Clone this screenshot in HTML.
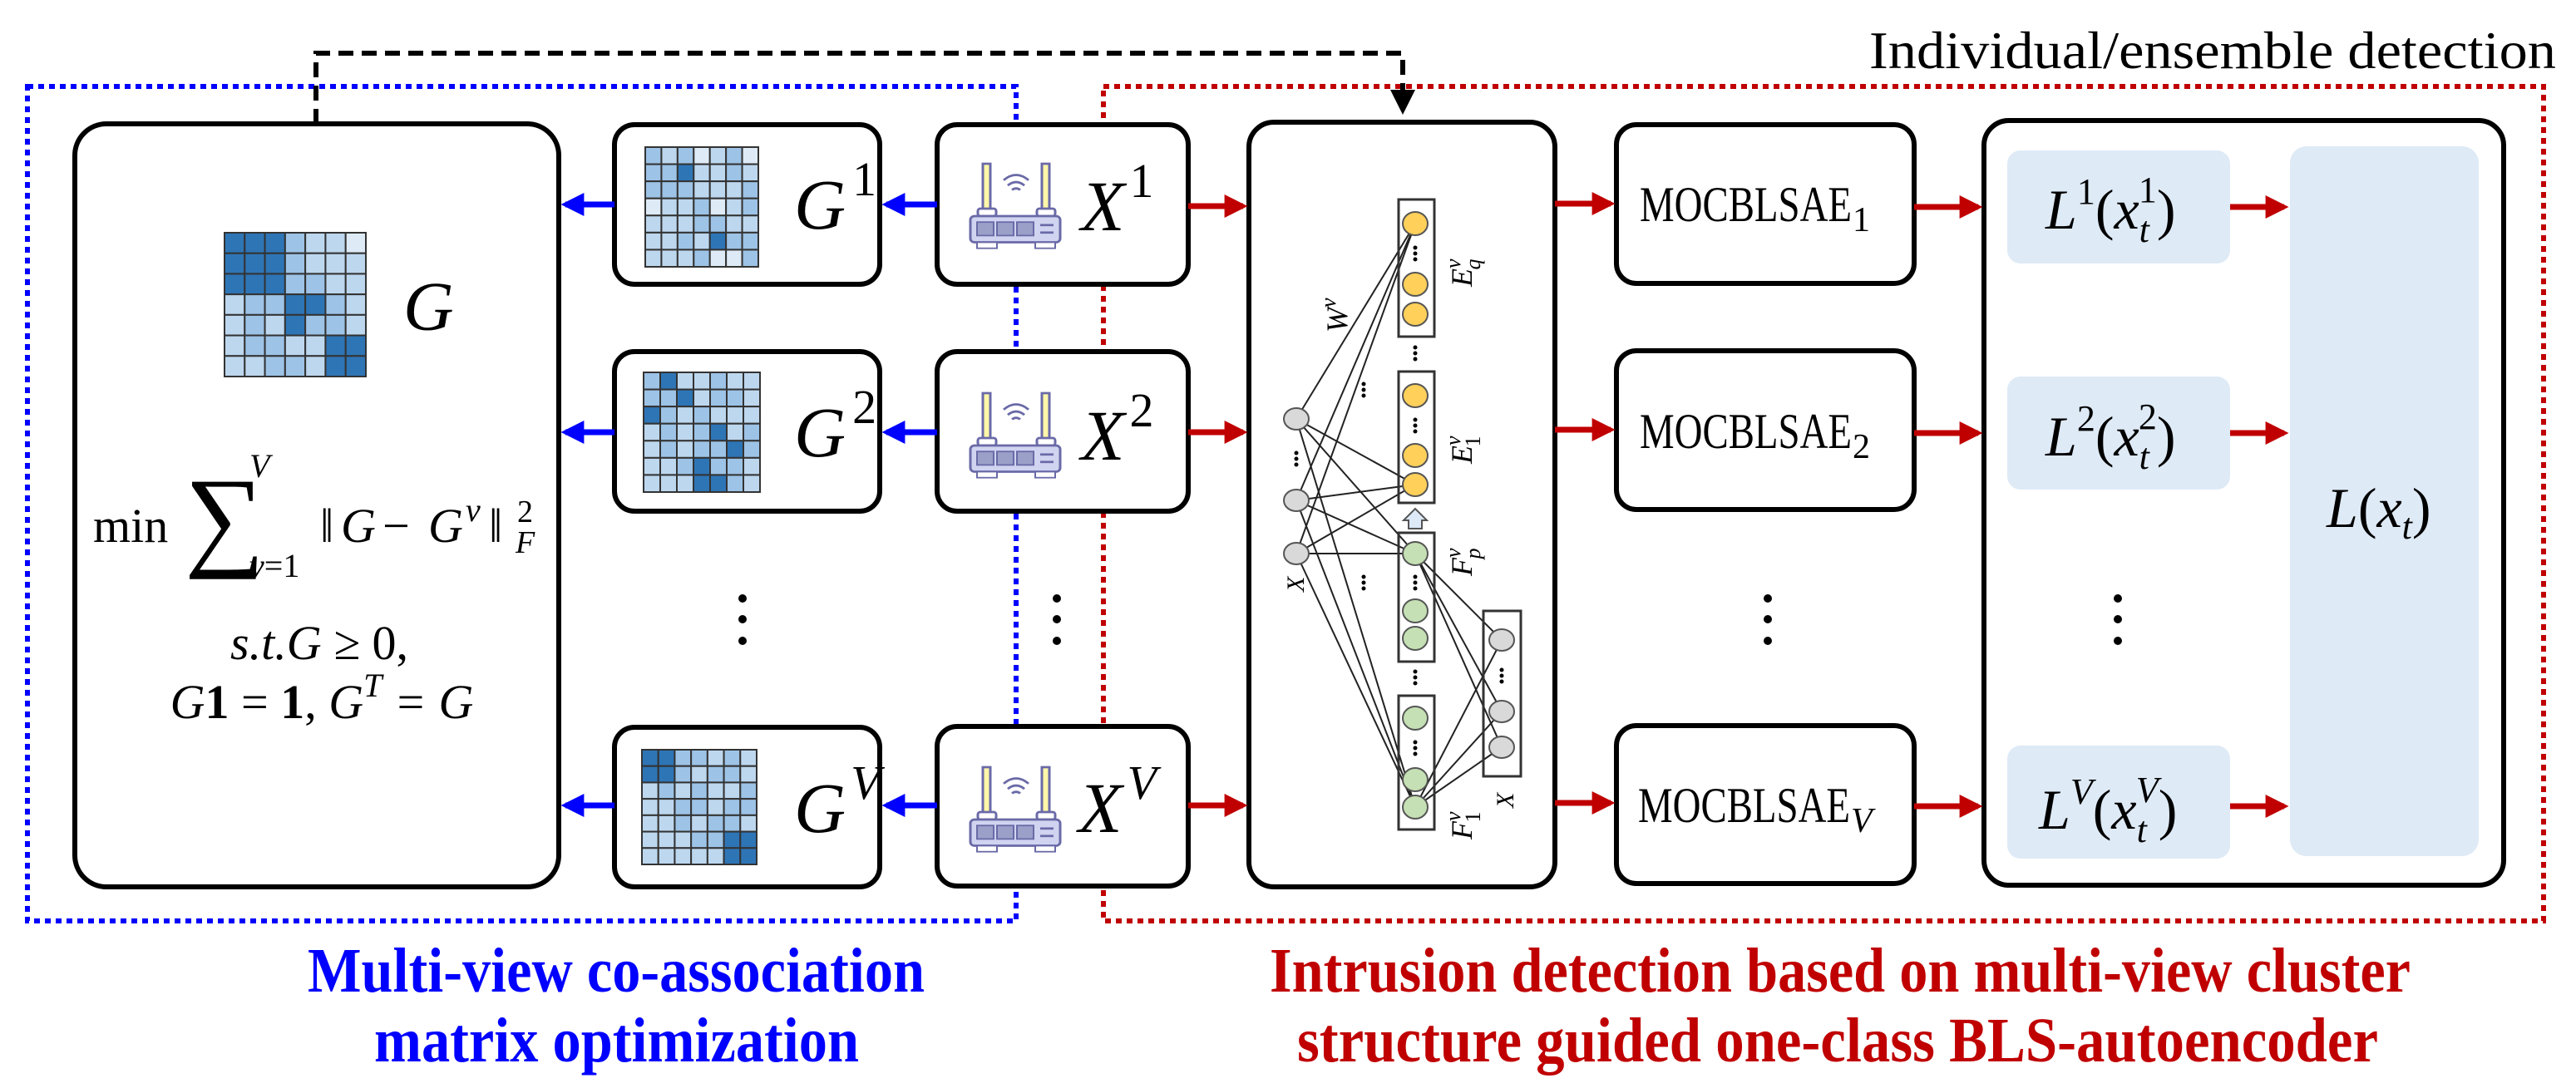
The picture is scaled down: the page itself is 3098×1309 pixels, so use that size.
<!DOCTYPE html>
<html><head><meta charset="utf-8"><style>
html,body{margin:0;padding:0;background:#fff;overflow:hidden;}
svg{display:block;}
.s{font-family:"Liberation Serif",serif;}
.i{font-family:"Liberation Serif",serif;font-style:italic;}
</style></head><body>
<svg id="S" width="3098" height="1309" viewBox="0 0 3098 1309" xmlns="http://www.w3.org/2000/svg">
<defs>
<marker id="ab" markerWidth="4" markerHeight="4" refX="3.2" refY="2" orient="auto" markerUnits="strokeWidth"><path d="M0,0 L4,2 L0,4 Z" fill="#0000ff"/></marker>
<marker id="ar" markerWidth="4" markerHeight="4" refX="3.2" refY="2" orient="auto" markerUnits="strokeWidth"><path d="M0,0 L4,2 L0,4 Z" fill="#c00000"/></marker>
<marker id="ak" markerWidth="5" markerHeight="5" refX="4" refY="2.5" orient="auto" markerUnits="strokeWidth"><path d="M0,0 L5,2.5 L0,5 Z" fill="#000"/></marker>
<g id="router">
<rect x="15" y="0" width="9" height="62" fill="#fff7a8" stroke="#6a6aa8" stroke-width="3"/>
<rect x="86" y="0" width="9" height="62" fill="#fff7a8" stroke="#6a6aa8" stroke-width="3"/>
<rect x="9" y="60" width="22" height="10" rx="3" fill="#fff" stroke="#6a6aa8" stroke-width="3"/>
<rect x="80" y="60" width="22" height="10" rx="3" fill="#fff" stroke="#6a6aa8" stroke-width="3"/>
<path d="M40,22 Q55,8 70,22 M45,29 Q55,20 65,29 M50,35 Q55,31 60,35" fill="none" stroke="#6a6aa8" stroke-width="3"/>
<rect x="0" y="70" width="108" height="35" rx="5" fill="#d0d4f0" stroke="#6a6aa8" stroke-width="3"/>
<rect x="8" y="78" width="20" height="18" fill="#9aa0c8" stroke="#6a6aa8" stroke-width="2"/>
<rect x="32" y="78" width="20" height="18" fill="#9aa0c8" stroke="#6a6aa8" stroke-width="2"/>
<rect x="56" y="78" width="20" height="18" fill="#9aa0c8" stroke="#6a6aa8" stroke-width="2"/>
<line x1="84" y1="82" x2="100" y2="82" stroke="#6a6aa8" stroke-width="3"/>
<line x1="84" y1="92" x2="100" y2="92" stroke="#6a6aa8" stroke-width="3"/>
<rect x="8" y="105" width="24" height="8" fill="#fff" stroke="#6a6aa8" stroke-width="2"/>
<rect x="78" y="105" width="24" height="8" fill="#fff" stroke="#6a6aa8" stroke-width="2"/>
</g>
</defs>

<rect x="33" y="104" width="1189" height="1004" fill="none" stroke="#0000ff" stroke-width="6" stroke-dasharray="7 6"/>
<rect x="1327" y="104" width="1732" height="1004" fill="none" stroke="#c00000" stroke-width="6" stroke-dasharray="7 6"/>

<path d="M380,149 L380,64 L1687,64 L1687,132" fill="none" stroke="#000" stroke-width="6" stroke-dasharray="18 10" marker-end="url(#ak)"/>

<rect x="90" y="149" width="582" height="918" rx="38" fill="#fff" stroke="#000" stroke-width="6"/>
<rect x="739" y="150" width="319" height="192" rx="24" fill="#fff" stroke="#000" stroke-width="6"/>
<rect x="739" y="423" width="319" height="192" rx="24" fill="#fff" stroke="#000" stroke-width="6"/>
<rect x="739" y="875" width="319" height="192" rx="24" fill="#fff" stroke="#000" stroke-width="6"/>
<rect x="1127" y="150" width="302" height="192" rx="24" fill="#fff" stroke="#000" stroke-width="6"/>
<rect x="1127" y="423" width="302" height="192" rx="24" fill="#fff" stroke="#000" stroke-width="6"/>
<rect x="1127" y="874" width="302" height="192" rx="24" fill="#fff" stroke="#000" stroke-width="6"/>
<rect x="1502" y="147" width="368" height="920" rx="30" fill="#fff" stroke="#000" stroke-width="6"/>
<rect x="1944" y="150" width="358" height="191" rx="24" fill="#fff" stroke="#000" stroke-width="6"/>
<rect x="1944" y="422" width="358" height="191" rx="24" fill="#fff" stroke="#000" stroke-width="6"/>
<rect x="1944" y="873" width="358" height="190" rx="24" fill="#fff" stroke="#000" stroke-width="6"/>
<rect x="2386" y="145" width="625" height="920" rx="30" fill="#fff" stroke="#000" stroke-width="6"/>
<rect x="2414" y="181" width="268" height="136" rx="16" fill="#deeaf6"/>
<rect x="2414" y="453" width="268" height="136" rx="16" fill="#deeaf6"/>
<rect x="2414" y="897" width="268" height="136" rx="16" fill="#deeaf6"/>
<rect x="2754" y="176" width="227" height="854" rx="20" fill="#deeaf6"/>

<g id="grids"></g>
<g id="nn"></g>

<use href="#router" transform="translate(1167,197) scale(1,0.9)"/>
<use href="#router" transform="translate(1167,473) scale(1,0.9)"/>
<use href="#router" transform="translate(1167,923) scale(1,0.9)"/>

<g stroke="#0000ff" stroke-width="7" marker-end="url(#ab)">
<line x1="739" y1="246" x2="680" y2="246"/>
<line x1="739" y1="520" x2="680" y2="520"/>
<line x1="739" y1="969" x2="680" y2="969"/>
<line x1="1127" y1="246" x2="1066" y2="246"/>
<line x1="1127" y1="520" x2="1066" y2="520"/>
<line x1="1127" y1="969" x2="1066" y2="969"/>
</g>
<g stroke="#c00000" stroke-width="7" marker-end="url(#ar)">
<line x1="1429" y1="248" x2="1495" y2="248"/>
<line x1="1429" y1="520" x2="1495" y2="520"/>
<line x1="1429" y1="969" x2="1495" y2="969"/>
<line x1="1870" y1="245" x2="1937" y2="245"/>
<line x1="1870" y1="517" x2="1937" y2="517"/>
<line x1="1870" y1="966" x2="1937" y2="966"/>
<line x1="2302" y1="249" x2="2379" y2="249"/>
<line x1="2302" y1="521" x2="2379" y2="521"/>
<line x1="2302" y1="970" x2="2379" y2="970"/>
<line x1="2682" y1="249" x2="2747" y2="249"/>
<line x1="2682" y1="521" x2="2747" y2="521"/>
<line x1="2682" y1="970" x2="2747" y2="970"/>
</g>

<g fill="#000">
<circle cx="893" cy="720" r="5"/><circle cx="893" cy="745" r="5"/><circle cx="893" cy="771" r="5"/>
<circle cx="1271" cy="720" r="5"/><circle cx="1271" cy="745" r="5"/><circle cx="1271" cy="771" r="5"/>
<circle cx="2126" cy="720" r="5"/><circle cx="2126" cy="745" r="5"/><circle cx="2126" cy="771" r="5"/>
<circle cx="2547" cy="720" r="5"/><circle cx="2547" cy="745" r="5"/><circle cx="2547" cy="771" r="5"/>
</g>

<text class="i" x="485" y="397" font-size="84">G</text>
<text class="i" x="955" y="275" font-size="86">G<tspan class="s" font-style="normal" font-size="58" dx="8" dy="-40">1</tspan></text>
<text class="i" x="955" y="549" font-size="86">G<tspan class="s" font-style="normal" font-size="58" dx="8" dy="-40">2</tspan></text>
<text class="i" x="955" y="1001" font-size="86">G<tspan font-size="58" dx="6" dy="-40">V</tspan></text>
<text class="i" x="1300" y="277" font-size="86">X<tspan class="s" font-style="normal" font-size="58" dx="6" dy="-40">1</tspan></text>
<text class="i" x="1300" y="553" font-size="86">X<tspan class="s" font-style="normal" font-size="58" dx="6" dy="-40">2</tspan></text>
<text class="i" x="1297" y="1001" font-size="86">X<tspan font-size="58" dx="6" dy="-40">V</tspan></text>

<text class="s" x="112" y="652" font-size="58">min</text>
<text class="s" x="222" y="668" font-size="135">∑</text>
<text class="i" x="300" y="574" font-size="40">V</text>
<text class="i" x="300" y="694" font-size="40">v<tspan font-style="normal">=1</tspan></text>
<text class="s" x="385" y="652" font-size="58">‖</text>
<text class="i" x="410" y="652" font-size="58">G</text>
<text class="s" x="460" y="652" font-size="58">−</text>
<text class="i" x="515" y="652" font-size="58">G</text>
<text class="i" x="560" y="627" font-size="40">v</text>
<text class="s" x="588" y="652" font-size="58">‖</text>
<text class="s" x="622" y="628" font-size="38">2</text>
<text class="i" x="620" y="665" font-size="38">F</text>
<text class="i" x="384" y="793" font-size="58" text-anchor="middle">s.t.G ≥ <tspan font-style="normal">0,</tspan></text>
<text class="i" x="387" y="864" font-size="58" text-anchor="middle">G<tspan font-weight="bold" font-style="normal">1</tspan><tspan font-style="normal"> = </tspan><tspan font-weight="bold" font-style="normal">1</tspan><tspan font-style="normal">,</tspan> G<tspan font-size="40" dy="-26">T</tspan><tspan dy="26"> = G</tspan></text>

<text class="s" x="1972" y="266" font-size="60" textLength="255" lengthAdjust="spacingAndGlyphs">MOCBLSAE</text><text class="s" x="2228" y="278" font-size="42">1</text>
<text class="s" x="1972" y="539" font-size="60" textLength="255" lengthAdjust="spacingAndGlyphs">MOCBLSAE</text><text class="s" x="2228" y="551" font-size="42">2</text>
<text class="s" x="1970" y="989" font-size="60" textLength="255" lengthAdjust="spacingAndGlyphs">MOCBLSAE</text><text class="i" x="2226" y="1001" font-size="42">V</text>

<text class="i" x="2460" y="275" font-size="68">L<tspan class="s" font-style="normal" font-size="44" dy="-30">1</tspan><tspan font-style="normal" dy="30">(</tspan>x<tspan font-size="44" dy="16">t</tspan><tspan class="s" font-style="normal" font-size="44" dx="-13" dy="-48">1</tspan><tspan font-style="normal" dy="32">)</tspan></text>
<text class="i" x="2460" y="548" font-size="68">L<tspan class="s" font-style="normal" font-size="44" dy="-30">2</tspan><tspan font-style="normal" dy="30">(</tspan>x<tspan font-size="44" dy="16">t</tspan><tspan class="s" font-style="normal" font-size="44" dx="-13" dy="-48">2</tspan><tspan font-style="normal" dy="32">)</tspan></text>
<text class="i" x="2452" y="997" font-size="68">L<tspan font-size="44" dy="-30">V</tspan><tspan font-style="normal" dy="30">(</tspan>x<tspan font-size="44" dy="16">t</tspan><tspan font-size="44" dx="-13" dy="-48">V</tspan><tspan font-style="normal" dy="32">)</tspan></text>
<text class="i" x="2798" y="634" font-size="68">L<tspan font-style="normal">(</tspan>x<tspan font-size="44" dy="14">t</tspan><tspan font-style="normal" dy="-14">)</tspan></text>

<text class="s" x="2248" y="82" font-size="64" textLength="826" lengthAdjust="spacingAndGlyphs">Individual/ensemble detection</text>
<text class="s" x="370" y="1193" font-size="76" font-weight="bold" fill="#0000ff" textLength="742" lengthAdjust="spacingAndGlyphs">Multi-view co-association</text>
<text class="s" x="450" y="1277" font-size="76" font-weight="bold" fill="#0000ff" textLength="583" lengthAdjust="spacingAndGlyphs">matrix optimization</text>
<text class="s" x="1527" y="1193" font-size="76" font-weight="bold" fill="#c00000" textLength="1372" lengthAdjust="spacingAndGlyphs">Intrusion detection based on multi-view cluster</text>
<text class="s" x="1560" y="1277" font-size="76" font-weight="bold" fill="#c00000" textLength="1300" lengthAdjust="spacingAndGlyphs">structure guided one-class BLS-autoencoder</text>

<text class="i" x="0" y="0" font-size="36" transform="translate(1620,400) rotate(-90)">W<tspan font-size="26" dy="-14">v</tspan></text>
<text class="i" x="0" y="0" font-size="30" transform="translate(1568,712) rotate(-90)">X</text>
<text class="i" x="0" y="0" font-size="30" transform="translate(1820,972) rotate(-90)">X</text>
<text class="i" x="0" y="0" font-size="36" transform="translate(1770,345) rotate(-90)">E<tspan font-size="26" dy="-14">v</tspan><tspan font-size="26" dx="-13" dy="24">q</tspan></text>
<text class="i" x="0" y="0" font-size="36" transform="translate(1770,558) rotate(-90)">E<tspan font-size="26" dy="-14">v</tspan><tspan font-size="26" font-style="normal" dx="-13" dy="24">1</tspan></text>
<text class="i" x="0" y="0" font-size="36" transform="translate(1770,693) rotate(-90)">F<tspan font-size="26" dy="-14">v</tspan><tspan font-size="26" dx="-13" dy="24">p</tspan></text>
<text class="i" x="0" y="0" font-size="36" transform="translate(1770,1010) rotate(-90)">F<tspan font-size="26" dy="-14">v</tspan><tspan font-size="26" font-style="normal" dx="-13" dy="24">1</tspan></text>
</svg>
<script>
var NS="http://www.w3.org/2000/svg";
function el(p,t,a){var e=document.createElementNS(NS,t);for(var k in a)e.setAttribute(k,a[k]);p.appendChild(e);return e;}
var C={d:"#2e75b6",m:"#9dc3e6",l:"#bdd7ee",w:"#deebf7"};
var g=document.getElementById("grids");
function grid(x,y,w,h,rows){var n=rows.length,m=rows[0].length,cw=w/m,ch=h/n;
 for(var r=0;r<n;r++)for(var c=0;c<m;c++)el(g,"rect",{x:x+c*cw,y:y+r*ch,width:cw,height:ch,fill:C[rows[r][c]],stroke:"#333","stroke-width":2});}
grid(270,280,170,173,["dddmllw","dddmlll","dddmmll","lmmddml","lmldmml","lmmlldd","llmmldd"]);
grid(776,177,136,144,["mlmwlmw","mmdllml","mmmlllm","wllmwlm","lllmmll","llmldmm","lllmwwm"]);
grid(774,448,140,144,["mdllmll","mmdlmml","dmlmlll","lmlmdlm","lmlmmdm","llmdmml","lllddml"]);
grid(772,902,138,138,["ddmmlml","ddmlmml","lmlmllm","llmmlmm","llmlmml","lllmmdd","llllldd"]);
var nn=document.getElementById("nn");
var inp=[[1559,504],[1559,602],[1559,666]];
var tg=[[1702,269],[1702,583],[1702,666],[1702,971]];
inp.forEach(function(a){tg.forEach(function(b){el(nn,"line",{x1:a[0],y1:a[1],x2:b[0],y2:b[1],stroke:"#222","stroke-width":2});});});
var rx=[[1806,770],[1806,856],[1806,899]];
[[1702,666],[1702,971]].forEach(function(a){rx.forEach(function(b){el(nn,"line",{x1:a[0],y1:a[1],x2:b[0],y2:b[1],stroke:"#222","stroke-width":2});});});
[[240,405],[447,605],[641,796],[837,998]].forEach(function(b){el(nn,"rect",{x:1682,y:b[0],width:43,height:b[1]-b[0],fill:"none",stroke:"#333","stroke-width":3});});
el(nn,"rect",{x:1784,y:735,width:45,height:199,fill:"none",stroke:"#333","stroke-width":3});
[269,342,378,476,548,583].forEach(function(y){el(nn,"ellipse",{cx:1702,cy:y,rx:15,ry:14,fill:"#ffd05a",stroke:"#555","stroke-width":2});});
[666,735,768,864,938,971].forEach(function(y){el(nn,"ellipse",{cx:1702,cy:y,rx:15,ry:14,fill:"#c5e0b4",stroke:"#555","stroke-width":2});});
inp.concat(rx).forEach(function(p){el(nn,"ellipse",{cx:p[0],cy:p[1],rx:15,ry:13,fill:"#d9d9d9",stroke:"#555","stroke-width":2});});
[[1702,305],[1702,425],[1702,512],[1702,701],[1702,815],[1702,900],[1559,552],[1806,813],[1640,469],[1640,701]].forEach(function(p){for(var k=-1;k<=1;k++)el(nn,"circle",{cx:p[0],cy:p[1]+k*7,r:2.5,fill:"#000"});});
el(nn,"path",{d:"M1694,636 L1694,626 L1688,626 L1702,612 L1716,626 L1710,626 L1710,636 Z",fill:"#dde9f7",stroke:"#555","stroke-width":2});
</script>
</body></html>
